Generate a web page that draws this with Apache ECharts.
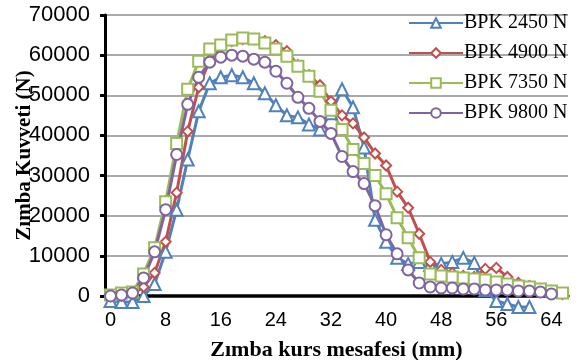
<!DOCTYPE html>
<html>
<head>
<meta charset="utf-8">
<script src="https://cdn.jsdelivr.net/npm/echarts@6/dist/echarts.min.js"></script>
<style>
  html, body { margin: 0; padding: 0; background: #fff; }
  #chart { width: 580px; height: 360px; }
</style>
</head>
<body>
<div id="chart"></div>
<script>
// stroke position (mm), one category per measured point
const strokeMm = ['0', '1.6', '3.2', '4.8', '6.4', '8', '9.6', '11.2', '12.8', '14.4',
  '16', '17.6', '19.2', '20.8', '22.4', '24', '25.6', '27.2', '28.8', '30.4',
  '32', '33.6', '35.2', '36.8', '38.4', '40', '41.6', '43.2', '44.8', '46.4',
  '48', '49.6', '51.2', '52.8', '54.4', '56', '57.6', '59.2', '60.8', '62.4',
  '64', '65.6']

const seriesNames = ['BPK 2450 N', 'BPK 4900 N', 'BPK 7350 N', 'BPK 9800 N']

// punch force (N)
const bpk2450 = [-1250, -1500, -1500, 0, 3000, 11000, 21500, 34000, 46000, 53000,
  54500, 55000, 54500, 53000, 50500, 47500, 45000, 44500, 42750, 41500,
  45500, 51500, 47000, 37000, 19000, 13500, 9500, 8000, 8500, 7750,
  8000, 8500, 9500, 8250, 1500, -1250, -2000, -2750, -2750, null,
  null, null]
const bpk4900 = [0, 0, 500, 2250, 5750, 13500, 25750, 41000, 52000, 58750,
  62000, 63500, 64000, 64000, 63500, 62500, 61000, 57500, 55000, 52500,
  48500, 45000, 43000, 39500, 35500, 32500, 26000, 22000, 15500, 8500,
  6500, 5750, 5000, 4750, 6750, 7000, 4750, 3250, 2500, 1750,
  1250, 500]
const bpk7350 = [250, 750, 1000, 5500, 12000, 23500, 38000, 51500, 58500, 61500,
  62500, 63750, 64250, 64000, 63000, 61500, 59750, 57250, 54750, 51000,
  46250, 41500, 36500, 33000, 30000, 25500, 19500, 14500, 9500, 5500,
  5000, 4750, 4500, 4250, 4000, 3500, 3000, 2500, 2250, 1750,
  1250, 750]
const bpk9800 = [0, 250, 750, 4500, 11000, 21500, 35250, 47750, 54500, 58250,
  59500, 60000, 59750, 59000, 58250, 56000, 53000, 49500, 46750, 43500,
  40500, 34750, 31000, 28000, 22500, 15250, 10500, 6500, 3250, 2250,
  2000, 2000, 1750, 1750, 1500, 1500, 1500, 1250, 1250, 1000,
  500, null]

const colors = ['#4F81BD', '#C0504D', '#9BBB59', '#8064A2']
const symbols = ['emptyTriangle', 'emptyDiamond', 'emptyRect', 'emptyCircle']
const symbolSizes = [12, 10, 11, 11]
const values = [bpk2450, bpk4900, bpk7350, bpk9800]

const chart = echarts.init(document.getElementById('chart'))

const option = {
  backgroundColor: '#fff',
  animation: false,
  grid: { left: 105, right: 12, top: 15, bottom: 64, outerBoundsMode: 'none' },
  legend: {
    orient: 'vertical',
    left: 403,
    top: 8,
    itemWidth: 54,
    itemHeight: 12,
    itemGap: 10,
    data: seriesNames,
    textStyle: {
      fontFamily: 'Liberation Serif',
      fontSize: 20,
      color: '#000',
      padding: [0, 0, 0, -4],
    },
  },
  xAxis: {
    type: 'category',
    data: strokeMm,
    boundaryGap: true,
    name: 'Zımba kurs mesafesi (mm)',
    nameLocation: 'middle',
    nameGap: 43,
    nameMoveOverlap: false,
    nameTextStyle: {
      fontFamily: 'Liberation Serif',
      fontWeight: 'bold',
      fontSize: 22,
      color: '#000',
    },
    axisLine: { lineStyle: { color: '#000', width: 3.5 } },
    axisTick: { interval: 9, length: 5, lineStyle: { color: '#000', width: 3 } },
    axisLabel: {
      interval: 4,
      margin: 14,
      fontFamily: 'Liberation Sans',
      fontSize: 20,
      color: '#000',
    },
    splitLine: { show: false },
  },
  yAxis: {
    type: 'value',
    min: 0,
    max: 70000,
    interval: 10000,
    name: 'Zımba Kuvveti (N)',
    nameLocation: 'middle',
    nameGap: 70,
    nameMoveOverlap: false,
    nameTextStyle: {
      fontFamily: 'Liberation Serif',
      fontWeight: 'bold',
      fontSize: 21,
      color: '#000',
    },
    axisLine: { show: true, lineStyle: { color: '#000', width: 3 } },
    axisTick: { show: true, length: 5, lineStyle: { color: '#000', width: 3 } },
    axisLabel: {
      margin: 15,
      fontFamily: 'Liberation Sans',
      fontSize: 22,
      color: '#000',
      formatter: (value) => String(value),
    },
    splitLine: { lineStyle: { color: '#8c8c8c', width: 1.5 } },
  },
  series: seriesNames.map((name, i) => ({
    name: name,
    type: 'line',
    data: values[i],
    clip: false,
    symbol: symbols[i],
    symbolSize: symbolSizes[i],
    showAllSymbol: true,
    connectNulls: false,
    lineStyle: { color: colors[i], width: 3 },
    itemStyle: { color: colors[i], borderWidth: i === 1 ? 1.5 : 2 },
  })),
}

chart.setOption(option)
</script>
</body>
</html>
